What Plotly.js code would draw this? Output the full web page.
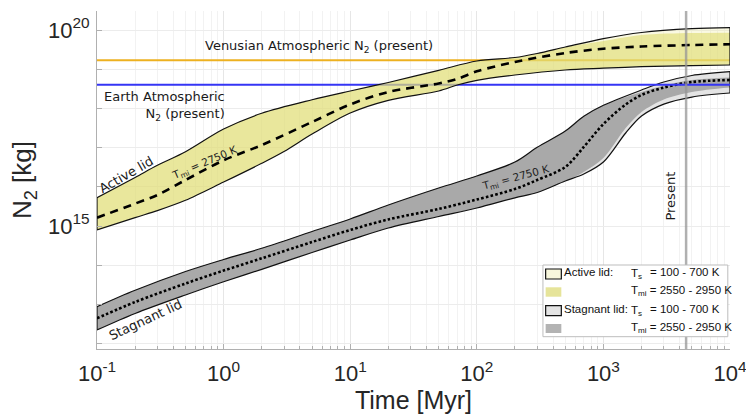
<!DOCTYPE html>
<html>
<head>
<meta charset="utf-8">
<script src="https://cdn.plot.ly/plotly-3.0.1.min.js"></script>
<style>html,body{margin:0;padding:0;background:#fff;}#chart{width:746px;height:415px;}</style>
</head>
<body>
<div id="chart"></div>
<script>
// ---------------- data ----------------
const xTickVals = [0.1, 1, 10, 100, 1000, 10000];
const xTickText = ['10<sup>-1</sup>', '10<sup>0</sup>', '10<sup>1</sup>', '10<sup>2</sup>', '10<sup>3</sup>', '10<sup>4</sup>'];
const yTickVals = [1e12, 1e13, 1e14, 1e15, 1e16, 1e17, 1e18, 1e19, 1e20];
const yTickText = ['', '', '', '10<sup>15</sup>', '', '', '', '', '10<sup>20</sup>'];

const venusN2 = 1.7e19;
const earthN2 = 4.0e18;
const presentAge = 4500;

// Active lid
const tActUpper = [0.1, 0.2, 0.3, 0.5, 1, 2, 5, 10, 20, 50, 100, 200, 300, 500, 1000, 2000, 5000, 10000];
const actTsUpper = [5.27e15, 1.73e16, 3.53e16, 7.85e16, 2.98e17, 7.5e17, 1.66e18, 2.78e18, 4.58e18, 9.38e18, 1.62e19, 1.99e19, 2.52e19, 3.68e19, 6.04e19, 8.63e19, 1.08e20, 1.15e20];
const actTmiUpper = [5.27e15, 1.73e16, 3.53e16, 7.85e16, 2.98e17, 7.5e17, 1.66e18, 2.78e18, 4.58e18, 9.38e18, 1.62e19, 1.99e19, 2.52e19, 3.68e19, 5.24e19, 7.45e19, 8.38e19, 8.53e19];
const tActLower = [0.1, 0.2, 0.3, 0.5, 1, 2, 3, 5, 10, 20, 50, 70, 100, 200, 500, 1000, 2000, 5000, 10000];
const actTsLower = [7.91e14, 1.64e15, 2.47e15, 4.53e15, 1.32e16, 3.97e16, 7.96e16, 2.22e17, 7.64e17, 1.61e18, 2.78e18, 3.95e18, 5.21e18, 7.11e18, 9.55e18, 1.06e19, 1.16e19, 1.24e19, 1.28e19];
const actTmiLower = [7.91e14, 1.64e15, 2.47e15, 4.53e15, 1.32e16, 3.97e16, 7.96e16, 2.22e17, 7.64e17, 1.61e18, 2.78e18, 3.95e18, 5.21e18, 7.11e18, 9.55e18, 1.07e19, 1.18e19, 1.26e19, 1.30e19];
const tActMid = [0.1, 0.2, 0.3, 0.5, 1, 2, 5, 10, 20, 50, 70, 100, 200, 500, 1000, 2000, 5000, 10000];
const actMid = [1.63e15, 3.72e15, 6.18e15, 1.49e16, 4.74e16, 1.16e17, 4.5e17, 1.26e18, 2.62e18, 4.32e18, 5.62e18, 8.83e18, 1.53e19, 2.59e19, 3.33e19, 3.79e19, 4.14e19, 4.32e19];

// Stagnant lid
const tStgUpper = [0.1, 0.2, 0.5, 1, 2, 5, 10, 20, 50, 100, 200, 300, 500, 700, 1000, 2000, 3000, 5000, 10000];
const stgTsUpper = [8.73e12, 2.29e13, 6.9e13, 1.40e14, 2.70e14, 7.24e14, 1.51e15, 3.43e15, 9.31e15, 1.89e16, 4.29e16, 1.02e17, 2.65e17, 6.32e17, 1.20e18, 2.94e18, 4.71e18, 6.9e18, 8.63e18];
const stgTmiUpper = [8.73e12, 2.29e13, 6.9e13, 1.40e14, 2.70e14, 7.24e14, 1.51e15, 3.43e15, 9.31e15, 1.89e16, 4.29e16, 1.02e17, 2.65e17, 6.32e17, 1.20e18, 2.62e18, 3.84e18, 5.30e18, 6.14e18];
const tStgLower = [0.1, 0.2, 0.5, 1, 2, 5, 10, 20, 50, 100, 200, 300, 500, 700, 1000, 1500, 2000, 3000, 5000, 10000];
const stgTsLower = [2.22e12, 5.86e12, 1.74e13, 3.78e13, 7.85e13, 2.11e14, 4.39e14, 8.89e14, 1.75e15, 2.88e15, 5.24e15, 7.16e15, 1.41e16, 2.12e16, 4.29e16, 2.36e17, 6.4e17, 1.29e18, 1.95e18, 2.47e18];
const stgTmiLower = [2.22e12, 5.86e12, 1.74e13, 3.78e13, 7.85e13, 2.11e14, 4.39e14, 8.89e14, 1.75e15, 2.88e15, 5.24e15, 7.16e15, 1.41e16, 2.39e16, 5.43e16, 3.16e17, 8.09e17, 1.69e18, 2.62e18, 3.41e18];
const tStgMid = [0.1, 0.2, 0.5, 1, 2, 5, 10, 20, 50, 100, 200, 300, 500, 700, 1000, 1500, 2000, 3000, 5000, 10000];
const stgMid = [4.42e12, 1.15e13, 3.41e13, 7.28e13, 1.50e14, 3.91e14, 7.91e14, 1.47e15, 2.72e15, 4.74e15, 8.79e15, 1.49e16, 3.2e16, 1.04e17, 4.0e17, 1.26e18, 2.2e18, 3.41e18, 4.71e18, 5.30e18];

// ---------------- helpers ----------------
const L = 97, R = 730.5, T = 11, B = 349;
const px = v => (v - L) / (R - L);
const py = v => (B - v) / (B - T);
const SM = 0.9;
const traces = [];

function addFill(tU, yU, tL, yL, color) {
  traces.push({x: tL, y: yL, mode: 'lines', line: {width: 0, shape: 'spline', smoothing: SM}});
  traces.push({x: tU, y: yU, mode: 'lines', fill: 'tonexty', fillcolor: color, line: {width: 0, shape: 'spline', smoothing: SM}});
}
function addOutline(tU, yU, tL, yL) {
  const ln = {color: '#111', width: 1.2, shape: 'spline', smoothing: SM};
  traces.push({x: tU, y: yU, mode: 'lines', line: ln});
  traces.push({x: tL, y: yL, mode: 'lines', line: ln});
  const n = tU.length - 1, m = tL.length - 1;
  traces.push({x: [tU[0], tL[0]], y: [yU[0], yL[0]], mode: 'lines', line: {color: '#111', width: 1.2}});
  traces.push({x: [tU[n], tL[m]], y: [yU[n], yL[m]], mode: 'lines', line: {color: '#111', width: 1.2}});
}

const xr = [xTickVals[0], xTickVals[xTickVals.length - 1]];

// stagnant lid
addFill(tStgUpper, stgTsUpper, tStgLower, stgTsLower, '#e4e4e4');
addFill(tStgUpper, stgTmiUpper, tStgLower, stgTmiLower, '#a9a9a9');
addOutline(tStgUpper, stgTsUpper, tStgLower, stgTsLower);
traces.push({x: tStgMid, y: stgMid, mode: 'lines', line: {color: '#000', width: 2.6, dash: '2.6px,2.2px', shape: 'spline', smoothing: SM}});

// reference lines
traces.push({x: xr, y: [venusN2, venusN2], mode: 'lines', line: {color: '#EDB120', width: 2}});
traces.push({x: xr, y: [earthN2, earthN2], mode: 'lines', line: {color: '#3535f5', width: 2}});

// active lid
addFill(tActUpper, actTsUpper, tActLower, actTsLower, 'rgba(238,235,160,0.3)');
addFill(tActUpper, actTmiUpper, tActLower, actTmiLower, 'rgba(222,218,110,0.6)');
addOutline(tActUpper, actTsUpper, tActLower, actTsLower);
traces.push({x: tActMid, y: actMid, mode: 'lines', line: {color: '#000', width: 2.6, dash: '8px,6px', shape: 'spline', smoothing: SM}});

// present
traces.push({x: [presentAge, presentAge], y: [1e11, 1e21], mode: 'lines', line: {color: 'rgba(150,150,150,0.75)', width: 2.5}});

traces.forEach(t => { t.showlegend = false; t.type = 'scatter'; t.hoverinfo = 'skip'; });

const annFont = {family: 'DejaVu Sans', size: 13, color: '#1a1a1a'};
const annotations = [
  {x: px(319), y: py(47), text: 'Venusian Atmospheric N<sub>2</sub> (present)', font: annFont},
  {x: px(227), y: py(106), xanchor: 'right', align: 'right', text: 'Earth Atmospheric<br>N<sub>2</sub> (present)', font: annFont},
  {x: px(126.5), y: py(174), text: 'Active lid', textangle: -30, font: annFont},
  {x: px(205), y: py(163), text: 'T<sub>mi</sub> = 2750 K', textangle: -23, font: {family: 'DejaVu Sans', size: 10.5, color: '#222'}},
  {x: px(146), y: py(319.5), text: 'Stagnant lid', textangle: -25, font: annFont},
  {x: px(516), y: py(178), text: 'T<sub>mi</sub> = 2750 K', textangle: -15, font: {family: 'DejaVu Sans', size: 10.5, color: '#222'}},
  {x: px(670), y: py(196), text: 'Present', textangle: -90, font: annFont}
];
annotations.forEach(a => { a.xref = 'paper'; a.yref = 'paper'; a.showarrow = false; if (!a.xanchor) a.xanchor = 'center'; a.yanchor = 'middle'; });

// custom legend
const legFont = {family: 'Liberation Sans, Arial', size: 11.5, color: '#111'};
const shapes = [
  {type: 'rect', x0: px(543.3), x1: px(728.3), y0: py(336.7), y1: py(265), line: {color: '#bdbdbd', width: 1}, fillcolor: '#fff', layer: 'above'},
  {type: 'rect', x0: px(546), x1: px(561.7), y0: py(279), y1: py(269), line: {color: '#111', width: 1.2}, fillcolor: '#f7f6dc', layer: 'above'},
  {type: 'rect', x0: px(546), x1: px(561.7), y0: py(296.7), y1: py(287.3), line: {width: 0}, fillcolor: '#e6e49a', layer: 'above'},
  {type: 'rect', x0: px(546), x1: px(561.7), y0: py(315.7), y1: py(305.7), line: {color: '#111', width: 1.2}, fillcolor: '#e4e4e4', layer: 'above'},
  {type: 'rect', x0: px(546), x1: px(561.7), y0: py(333), y1: py(324), line: {width: 0}, fillcolor: '#b3b3b3', layer: 'above'}
];
shapes.forEach(s => { s.xref = 'paper'; s.yref = 'paper'; });
const legTexts = [
  [562.5, 272, 'Active lid:'], [629, 274, 'T<sub>s</sub>'], [648, 272, '= 100 - 700 K'],
  [629, 291, 'T<sub>mi</sub> = 2550 - 2950 K'],
  [562.5, 308.5, 'Stagnant lid:'], [629, 310.5, 'T<sub>s</sub>'], [648, 308.5, '= 100 - 700 K'],
  [629, 327.5, 'T<sub>mi</sub> = 2550 - 2950 K']
];
legTexts.forEach(l => annotations.push({x: px(l[0]), y: py(l[1]), xref: 'paper', yref: 'paper', xanchor: 'left', yanchor: 'middle', showarrow: false, text: l[2], font: legFont}));

const tickFont = {family: 'Liberation Sans, Arial', size: 22, color: '#262626'};
const minorX = [];
for (let d = 0.1; d < 10000; d *= 10) for (let k = 2; k <= 9; k++) minorX.push(+(k * d).toPrecision(3));

const layout = {
  width: 746, height: 415,
  margin: {l: L, r: 746 - R, t: T, b: 415 - B},
  paper_bgcolor: '#fff', plot_bgcolor: '#fff',
  showlegend: false,
  xaxis: {
    type: 'log', range: [-1, 4], tickmode: 'array', tickvals: xTickVals, ticktext: xTickText,
    ticks: 'inside', ticklen: 5, tickcolor: '#b0b0b0', tickwidth: 1, ticklabelstandoff: 5,
    ticklabeloverflow: 'allow',
    showline: true, linecolor: '#b0b0b0', linewidth: 1, zeroline: false,
    showgrid: true, gridcolor: '#e6e6e6', gridwidth: 1,
    minor: {tickvals: minorX, ticks: 'inside', ticklen: 3, tickcolor: '#b0b0b0', showgrid: true, gridcolor: '#f2f2f2'},
    tickfont: tickFont,
    title: {text: 'Time [Myr]', font: {family: 'Liberation Sans, Arial', size: 25, color: '#262626'}, standoff: 6}
  },
  yaxis: {
    type: 'log', range: [11.862, 20.485], tickmode: 'array', tickvals: yTickVals, ticktext: yTickText,
    ticks: 'inside', ticklen: 5, tickcolor: '#b0b0b0', ticklabelstandoff: 2,
    showline: true, linecolor: '#b0b0b0', linewidth: 1, zeroline: false,
    showgrid: true, gridcolor: '#ececec',
    tickfont: tickFont,
    title: {text: 'N<sub>2</sub> [kg]', font: {family: 'Liberation Sans, Arial', size: 26, color: '#262626'}, standoff: 8}
  },
  annotations: annotations,
  shapes: shapes
};

Plotly.newPlot('chart', traces, layout, {staticPlot: true, displayModeBar: false});
</script>
</body>
</html>
